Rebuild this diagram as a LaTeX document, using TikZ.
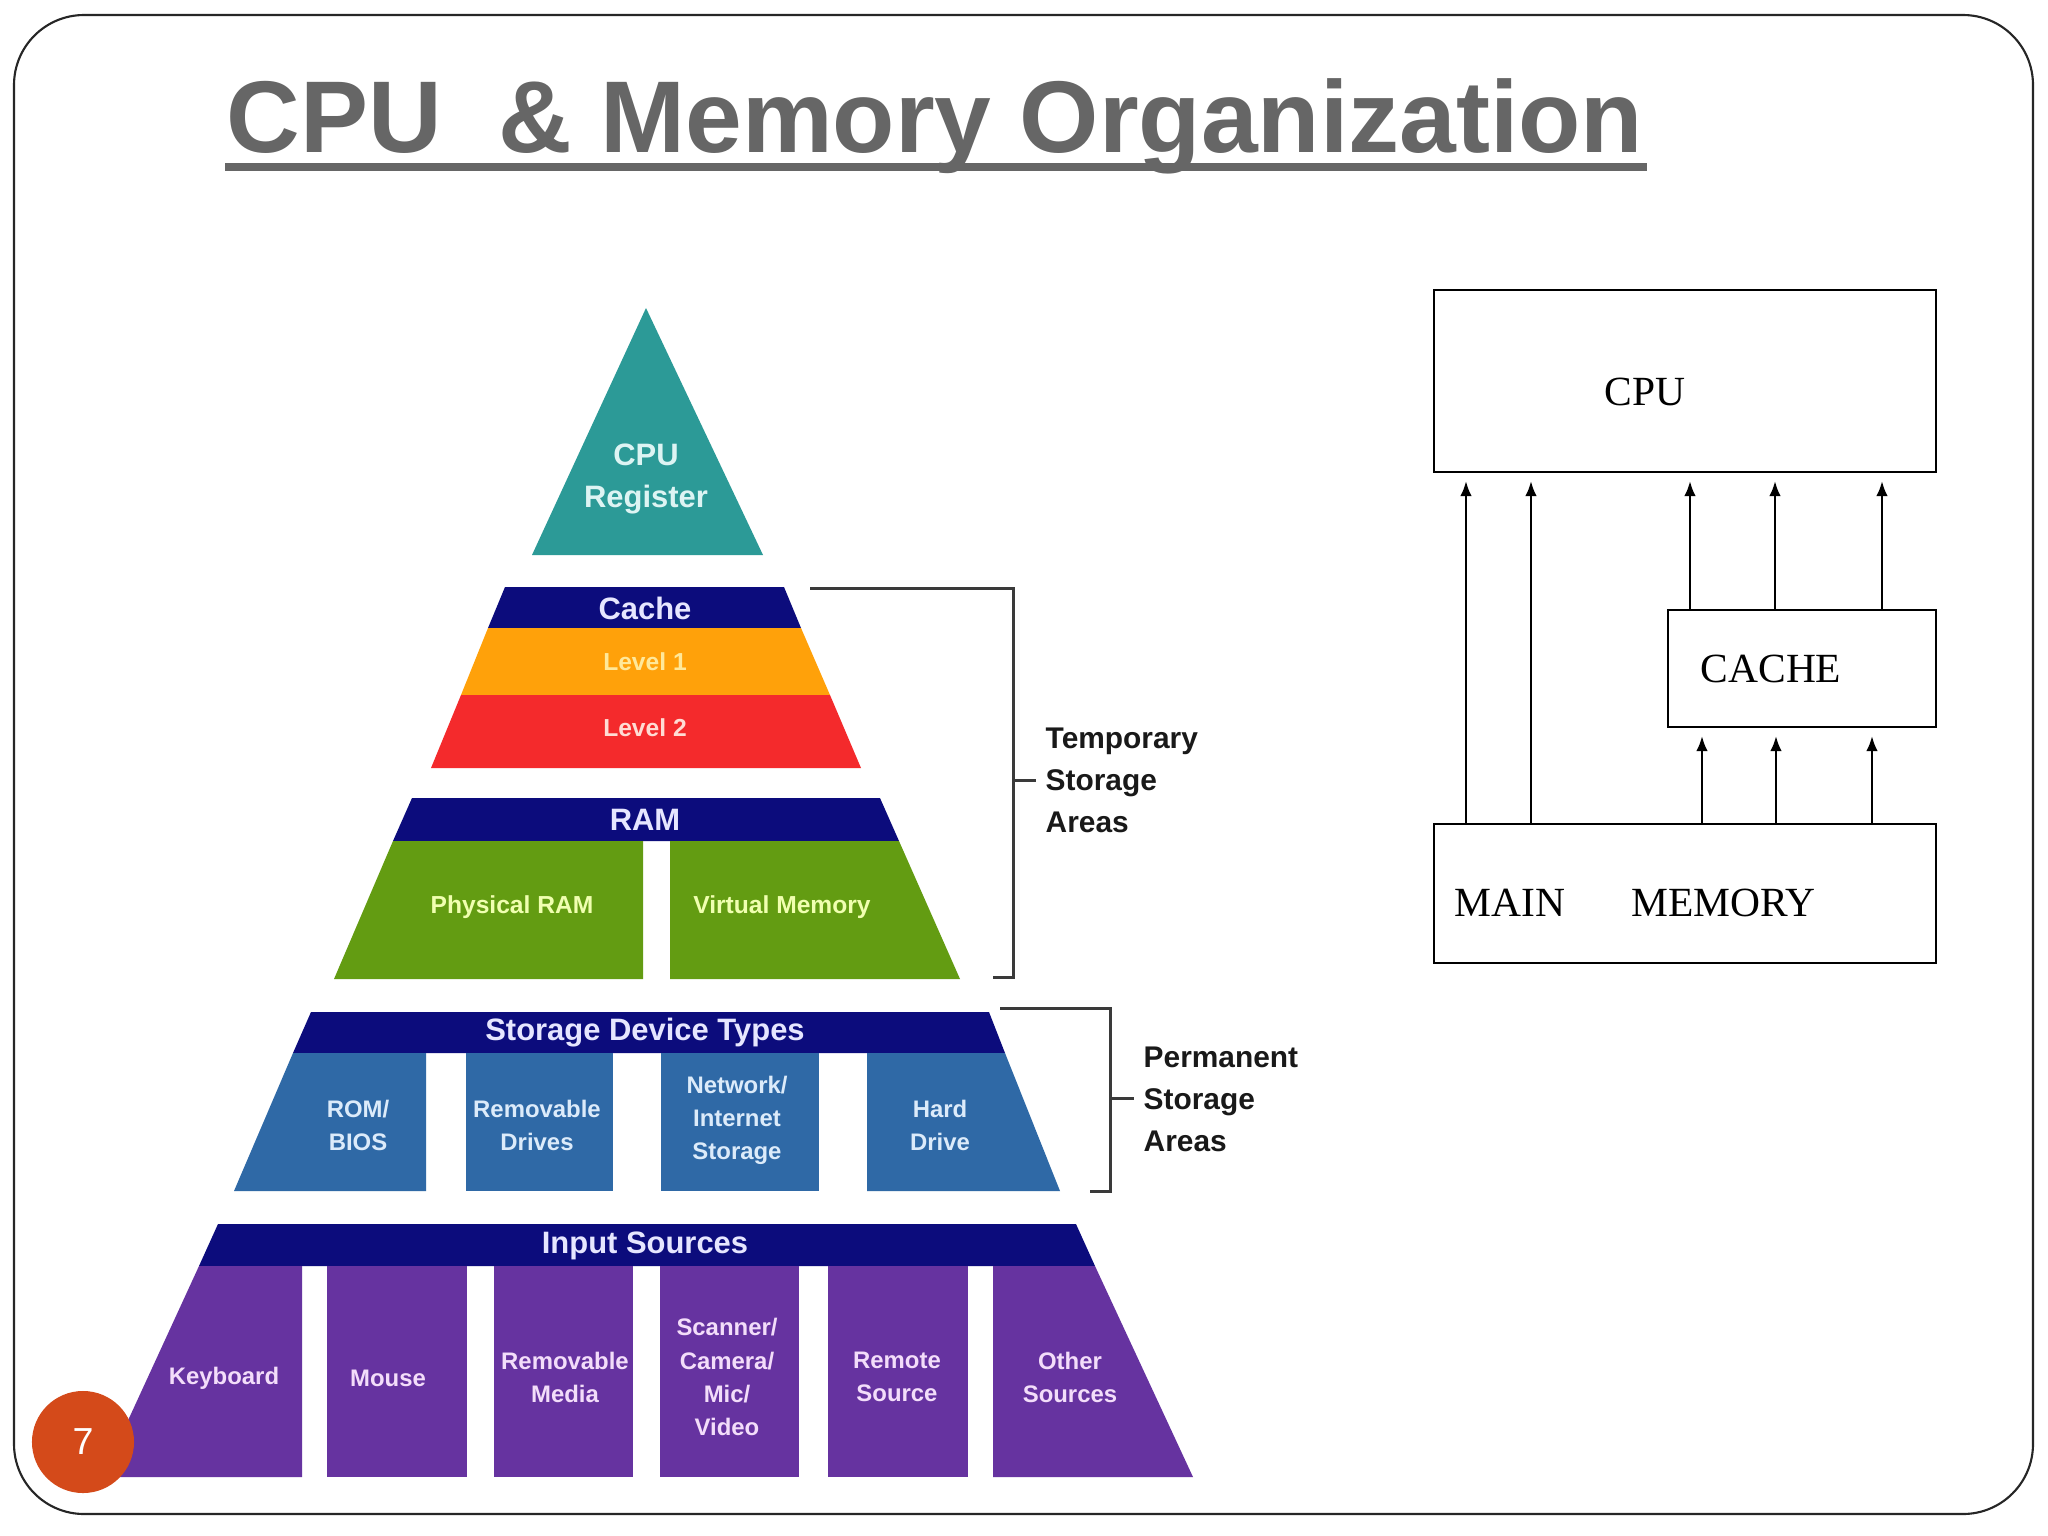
\documentclass[tikz,border=0pt]{standalone}
\usepackage{fontspec}
\setmainfont{Liberation Sans}
\newfontfamily\serifrm{Liberation Serif}
\usetikzlibrary{arrows.meta}
\definecolor{titlegray}{HTML}{666666}
\definecolor{teal1}{HTML}{2C9A97}
\definecolor{navy1}{HTML}{0C0C7C}
\definecolor{orange1}{HTML}{FFA10A}
\definecolor{red1}{HTML}{F42A2C}
\definecolor{green1}{HTML}{639C12}
\definecolor{blue1}{HTML}{2F69A6}
\definecolor{purple1}{HTML}{6633A0}
\definecolor{pagecol}{HTML}{D44A1A}
\definecolor{cpuTxt}{HTML}{DDF4F3}
\definecolor{hdrTxt}{HTML}{E6E6FF}
\definecolor{lOneTxt}{HTML}{FFE89A}
\definecolor{lTwoTxt}{HTML}{FFDCD4}
\definecolor{grTxt}{HTML}{F0FFB0}
\definecolor{blTxt}{HTML}{DCEBFA}
\definecolor{puTxt}{HTML}{F3DDFA}
\definecolor{brkcol}{HTML}{3A3A3A}
\newcommand\hdrfont{\bfseries\fontsize{8.8}{12.2}\selectfont}
\newcommand\lvlfont{\bfseries\fontsize{7}{9.4}\selectfont}
\newcommand\blkfont{\bfseries\fontsize{6.8}{9.4}\selectfont}
\begin{document}
\begin{tikzpicture}[x=0.01cm,y=-0.01cm,
  hdr/.style={font=\hdrfont, align=center, inner sep=0pt, text=hdrTxt},
  lvl/.style={font=\lvlfont, align=center, inner sep=0pt},
  blk/.style={font=\blkfont, align=center, inner sep=0pt},
  brtxt/.style={font=\bfseries\fontsize{8.5}{11.95}\selectfont, align=left, inner sep=0pt, anchor=west, text=black!90},
  brk/.style={draw=brkcol, line width=0.85pt},
  box/.style={draw=black, line width=0.7pt, inner sep=0pt},
  boxtxt/.style={font=\serifrm\fontsize{11.8}{14}\selectfont, inner sep=0pt},
  arr/.style={-{Latex[length=4.3pt,width=3.3pt]}, line width=0.7pt, shorten >=2.2pt}
]
% canvas
\fill[white] (0,0) rectangle (2048,1536);
\useasboundingbox (0,0) rectangle (2048,1536);
% frame
\draw[black!85, line width=0.6pt, rounded corners=0.7cm] (14,15) rectangle (2033,1514);
% title
\node[anchor=base west, inner sep=0pt, text=titlegray, font=\bfseries\fontsize{29}{34}\selectfont] (title) at (226,152) {CPU\ \ \& Memory Organization};
\fill[titlegray] (225,163) rectangle (1647,171);

% ---------- pyramid ----------
\fill[teal1] (646,308) -- (763,555) -- (532,555) -- cycle;
% cache tier
\fill[navy1] (505,587) -- (784,587) -- (801,628) -- (488,628) -- cycle;
\fill[orange1] (488,628) -- (801,628) -- (830,695) -- (461,695) -- cycle;
\fill[red1] (461,695) -- (830,695) -- (861,768) -- (431,768) -- cycle;
% RAM tier
\fill[navy1] (412,798) -- (880,798) -- (899,841) -- (393,841) -- cycle;
\fill[green1] (393,841) -- (643,841) -- (643,979) -- (334,979) -- cycle;
\fill[green1] (670,841) -- (899,841) -- (960,979) -- (670,979) -- cycle;
% storage tier
\fill[navy1] (311,1012) -- (989,1012) -- (1005,1053) -- (293,1053) -- cycle;
\fill[blue1] (293,1053) -- (426,1053) -- (426,1191) -- (234,1191) -- cycle;
\fill[blue1] (466,1053) rectangle (613,1191);
\fill[blue1] (661,1053) rectangle (819,1191);
\fill[blue1] (867,1053) -- (1005,1053) -- (1060,1191) -- (867,1191) -- cycle;
% input tier
\fill[navy1] (218,1224) -- (1076,1224) -- (1095,1266) -- (199,1266) -- cycle;
\fill[purple1] (199,1266) -- (302,1266) -- (302,1477) -- (102,1477) -- cycle;
\fill[purple1] (327,1266) rectangle (467,1477);
\fill[purple1] (494,1266) rectangle (633,1477);
\fill[purple1] (660,1266) rectangle (799,1477);
\fill[purple1] (828,1266) rectangle (968,1477);
\fill[purple1] (993,1266) -- (1095,1266) -- (1193,1477) -- (993,1477) -- cycle;

% pyramid labels
\node[hdr, text=cpuTxt] (reg) at (646,479) {CPU\\Register};
\node[hdr] (cacheh) at (645,608) {Cache};
\node[lvl, text=lOneTxt] (lone) at (645,662) {Level 1};
\node[lvl, text=lTwoTxt] (ltwo) at (645,728) {Level 2};
\node[hdr] (ramh) at (645,820) {RAM};
\node[lvl, text=grTxt] (pram) at (512,907) {Physical RAM};
\node[lvl, text=grTxt] (vmem) at (782,907) {Virtual Memory};
\node[hdr] (sdt) at (645,1033) {Storage Device Types};
\node[blk, text=blTxt] (rom) at (358,1125) {ROM/\\BIOS};
\node[blk, text=blTxt] (rdrv) at (537,1125) {Removable\\Drives};
\node[blk, text=blTxt] (net) at (737,1120) {Network/\\Internet\\Storage};
\node[blk, text=blTxt] (hdd) at (940,1125) {Hard\\Drive};
\node[hdr] (ins) at (645,1246) {Input Sources};
\node[blk, text=puTxt] (kb) at (224,1378) {Keyboard};
\node[blk, text=puTxt] (ms) at (388,1378) {Mouse};
\node[blk, text=puTxt] (rmed) at (565,1377) {Removable\\Media};
\node[blk, text=puTxt] (scan) at (727,1377) {Scanner/\\Camera/\\Mic/\\Video};
\node[blk, text=puTxt] (rsrc) at (897,1377) {Remote\\Source};
\node[blk, text=puTxt] (osrc) at (1070,1377) {Other\\Sources};

% brackets
\draw[brk] (810,588) -- (1013,588) -- (1013,977) -- (993,977);
\draw[brk] (1013,780) -- (1036,780);
\node[brtxt] (temp) at (1045,780) {Temporary\\Storage\\Areas};
\draw[brk] (1000,1008) -- (1110,1008) -- (1110,1191) -- (1090,1191);
\draw[brk] (1110,1098) -- (1134,1098);
\node[brtxt] (perm) at (1143,1099) {Permanent\\Storage\\Areas};

% ---------- right diagram ----------
\node[box, minimum width=5.02cm, minimum height=1.82cm] (cpu) at (1685,381) {};
\node[box, minimum width=2.68cm, minimum height=1.17cm] (cache) at (1802,668.5) {};
\node[box, minimum width=5.02cm, minimum height=1.39cm] (mem) at (1685,893.5) {};
\node[boxtxt] (cputxt) at (1645,392) {CPU};
\node[boxtxt] (cachetxt) at (1771,669) {CACHE};
\node[boxtxt, anchor=west] (memtxt) at (1454,903) {MAIN\hspace{0.66cm}MEMORY};
\coordinate (xa) at (1466,0);
\coordinate (xb) at (1531,0);
\coordinate (xc) at (1690,0);
\coordinate (xd) at (1775,0);
\coordinate (xe) at (1882,0);
\coordinate (xf) at (1702,0);
\coordinate (xg) at (1776,0);
\coordinate (xh) at (1872,0);
\draw[arr] (mem.north -| xa) -- (cpu.south -| xa);
\draw[arr] (mem.north -| xb) -- (cpu.south -| xb);
\draw[arr] (cache.north -| xc) -- (cpu.south -| xc);
\draw[arr] (cache.north -| xd) -- (cpu.south -| xd);
\draw[arr] (cache.north -| xe) -- (cpu.south -| xe);
\draw[arr] (mem.north -| xf) -- (cache.south -| xf);
\draw[arr] (mem.north -| xg) -- (cache.south -| xg);
\draw[arr] (mem.north -| xh) -- (cache.south -| xh);

% page number
\node[circle, fill=pagecol, minimum size=1.02cm, inner sep=0pt, text=white, font=\fontsize{10.7}{12}\selectfont] (pg) at (83,1442) {7};
\end{tikzpicture}
\end{document}
